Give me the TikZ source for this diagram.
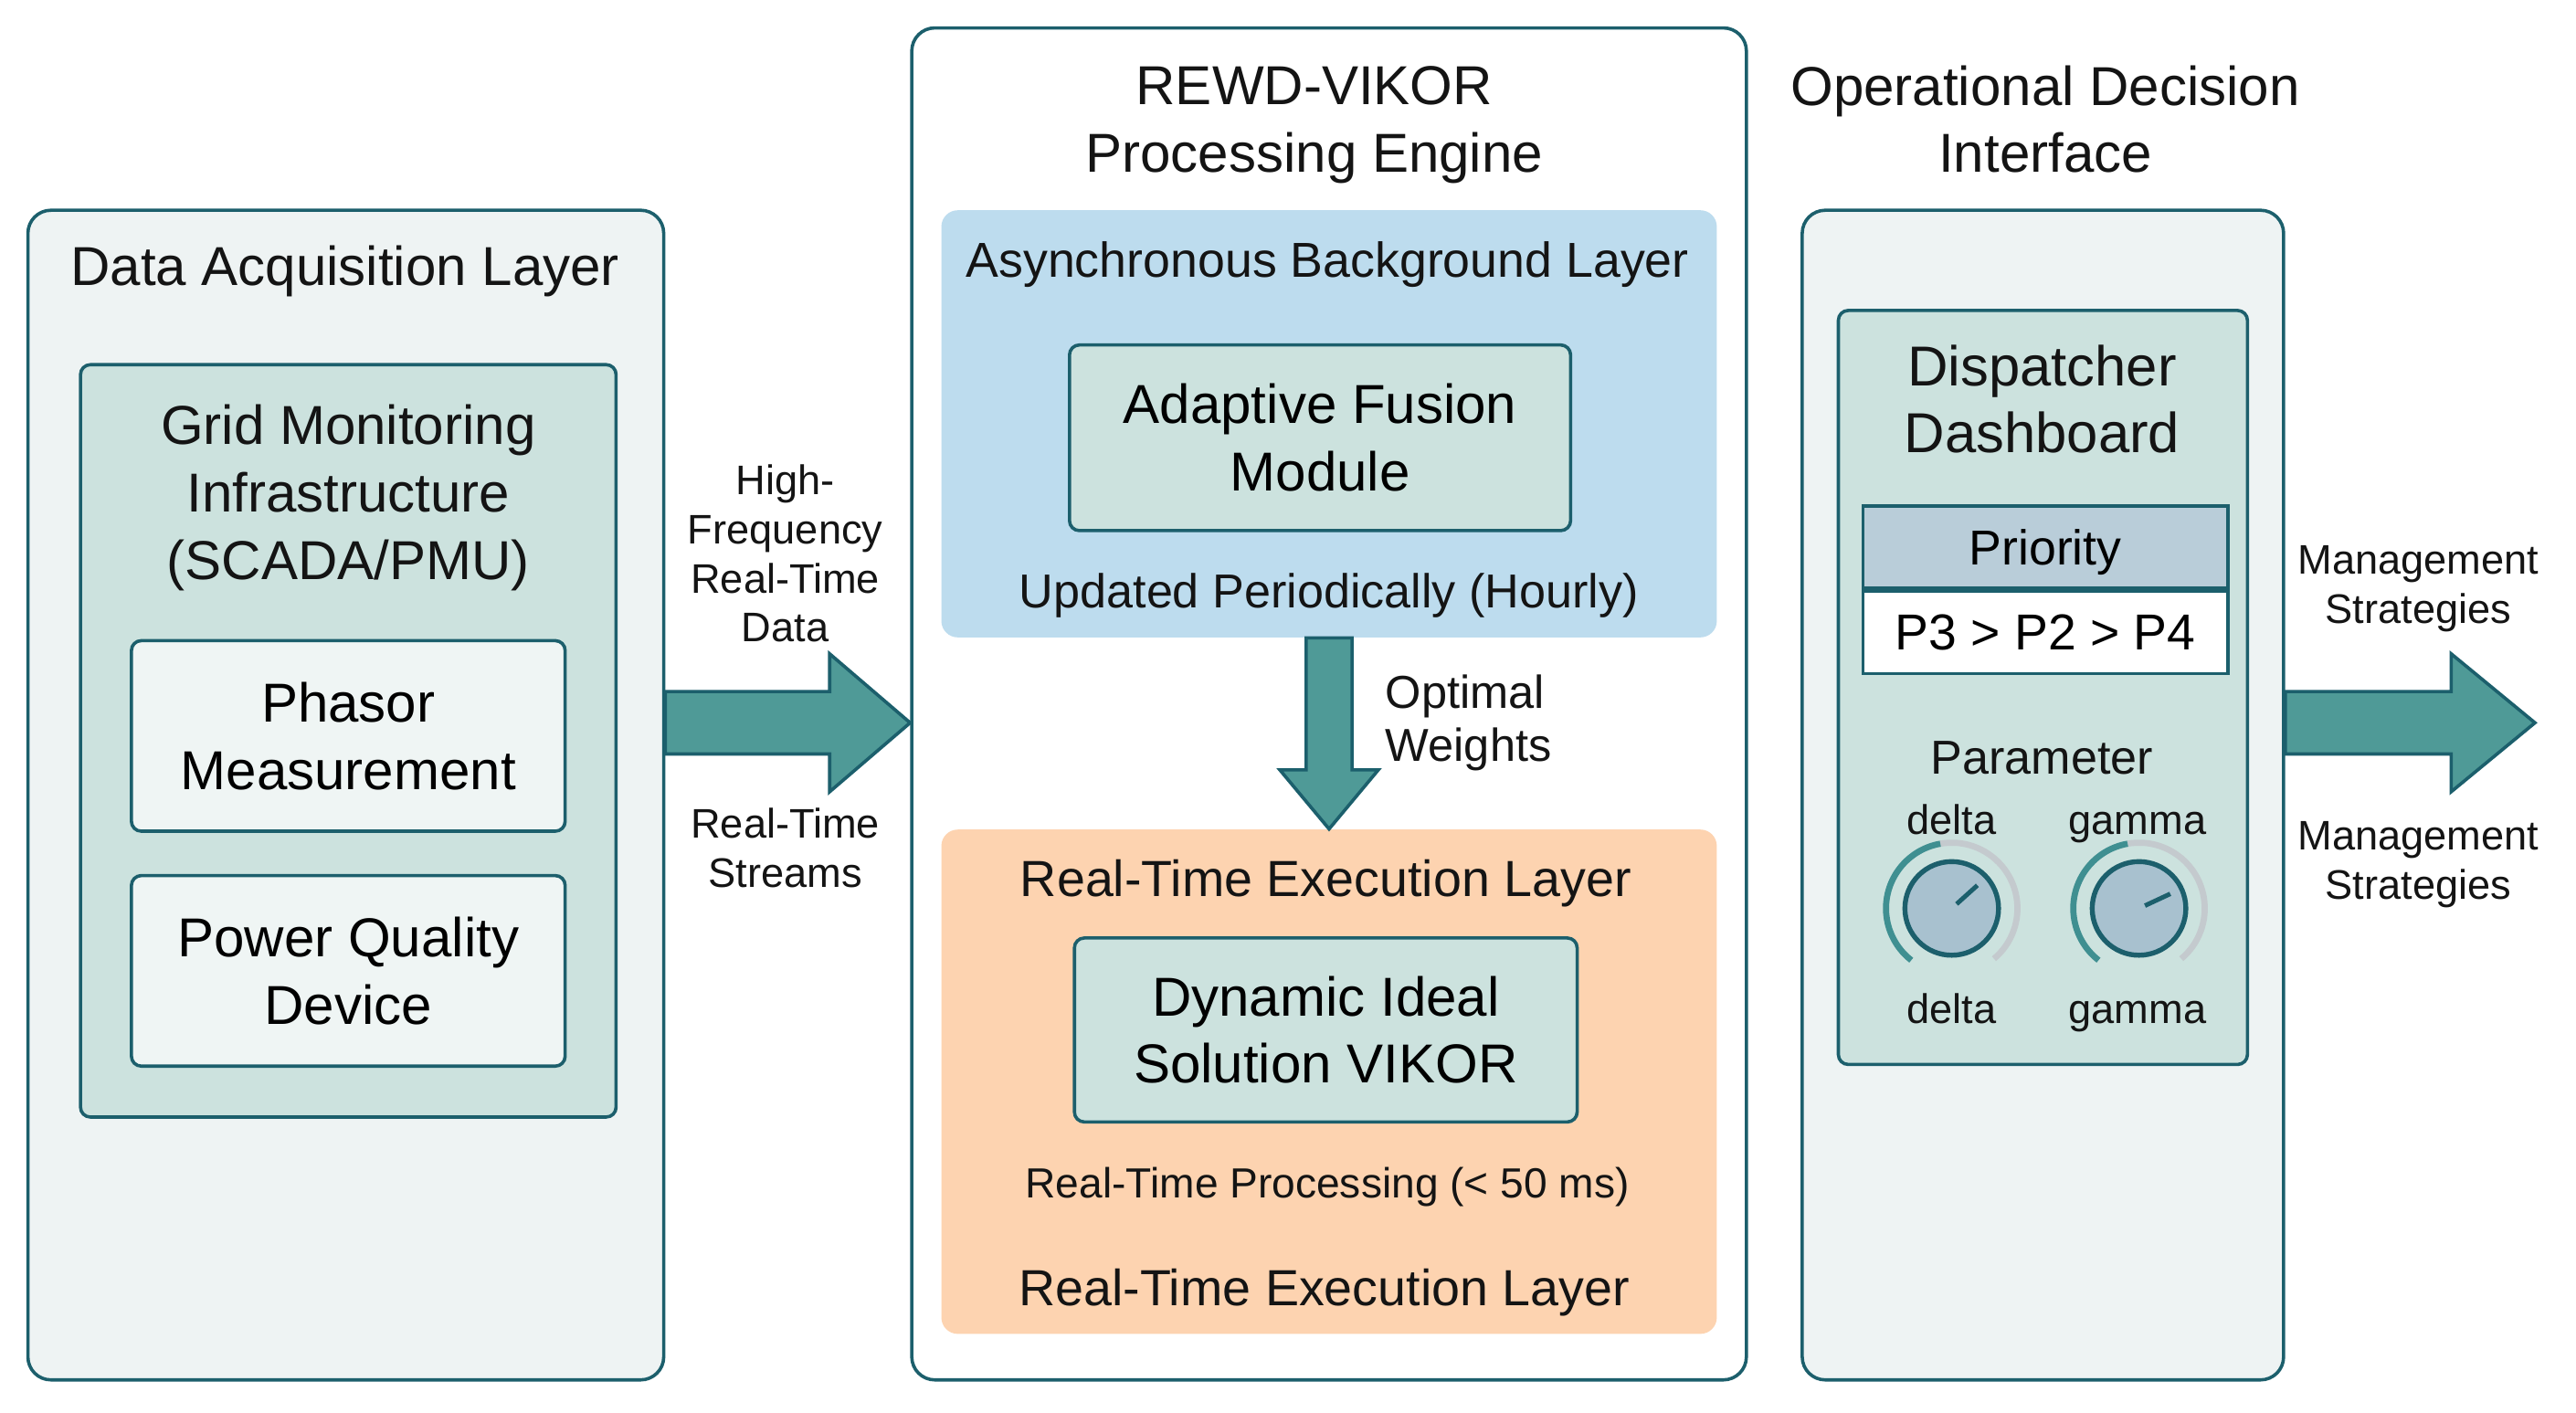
\documentclass[tikz,border=0pt]{standalone}
\usepackage{fontspec}
\setmainfont{Liberation Sans}
\usetikzlibrary{positioning,calc}
\definecolor{tealdk}{RGB}{28,95,108}
\definecolor{panelbg}{RGB}{238,243,243}
\definecolor{tealbg}{RGB}{204,226,222}
\definecolor{lightbg}{RGB}{239,245,244}
\definecolor{arrowfg}{RGB}{79,154,151}
\definecolor{bluebg}{RGB}{189,220,238}
\definecolor{peachbg}{RGB}{253,211,176}
\definecolor{headbg}{RGB}{185,205,217}
\definecolor{knobbg}{RGB}{168,193,207}
\definecolor{arcgray}{RGB}{196,202,206}
\definecolor{arcteal}{RGB}{63,143,145}
\tikzset{
  big/.style   ={font=\fontsize{19}{23.3}\selectfont},
  midf/.style  ={font=\fontsize{17}{20.4}\selectfont},
  sml/.style   ={font=\fontsize{14.3}{17}\selectfont},
  panel/.style ={draw=tealdk, line width=0.4mm, rounded corners=2.8mm, fill=panelbg},
  lyr/.style   ={rounded corners=2mm},
  tbox/.style  ={draw=tealdk, line width=0.4mm, rounded corners=1.2mm, fill=tealbg},
  wbox/.style  ={tbox, fill=lightbg, big, align=center},
  cell/.style  ={draw=tealdk, line width=0.4mm, minimum width=44.4mm, minimum height=10mm,
                 text height=12.2pt, text depth=0pt},
  lbl/.style   ={align=center, text=black!92, inner sep=0pt},
  fat/.style   ={fill=arrowfg, draw=tealdk, line width=0.4mm, line join=miter},
  knob/.style  ={circle, draw=tealdk, line width=0.6mm, fill=knobbg, minimum size=11.4mm},
  dial/.style  ={line width=0.75mm},
}

\begin{document}
\begin{tikzpicture}[x=0.2mm, y=-0.2mm]
  \path[use as bounding box, fill=white] (0,0) rectangle (1568,860);

  % --- three columns ---------------------------------------------------
  \node[panel, minimum width=77.4mm, minimum height=142.4mm] (acq) at (210.5,484) {};
  \node[panel, fill=white, minimum width=101.6mm, minimum height=164.6mm] (eng) at (809,428.5) {};
  \node[panel, minimum width=58.6mm, minimum height=142.4mm] (odi) at (1243.5,484) {};
  \coordinate (flow) at (0,440);

  % --- data acquisition ------------------------------------------------
  \node[lbl, big, anchor=base] (acqT) at (210,174) {Data Acquisition Layer};
  \node[tbox, minimum width=65.2mm, minimum height=91.6mm] (grid) at (212,451) {};
  \node[lbl, big] (gridT) at (212,303) {Grid Monitoring\\Infrastructure\\(SCADA/PMU)};
  \node[wbox, minimum width=52.8mm, minimum height=23.2mm] (pmu) at (212,448) {Phasor\\Measurement};
  \node[wbox, minimum width=52.8mm, minimum height=23.2mm, below=5mm of pmu] (pqd) {Power Quality\\Device};

  \draw[fat] ($(acq.east |- flow)+(0,-19)$) -- ($(eng.west |- flow)+(-49,-19)$) -- ++(0,-23)
     -- (eng.west |- flow) -- ++(-49,42) -- ++(0,-23) -- ($(acq.east |- flow)+(0,19)$) -- cycle;
  \node[lbl, sml] (hfT) at (478,337) {High-\\Frequency\\Real-Time\\Data};
  \node[lbl, sml] (rtsT) at (478,516) {Real-Time\\Streams};

  % --- processing engine -----------------------------------------------
  \node[lbl, big] (engT) at (800,76) {REWD-VIKOR\\Processing Engine};
  \node[lyr, fill=bluebg, minimum width=94.4mm, minimum height=52mm] (async) at (809,258) {};
  \node[lbl, midf, anchor=base] (asyncT) at (808,169) {Asynchronous Background Layer};
  \node[wbox, fill=tealbg, minimum width=61mm, minimum height=22.6mm] (afm) at (803.5,266.5) {Adaptive Fusion\\Module};
  \node[lbl, font=\fontsize{16.5}{20}\selectfont, anchor=base] (hourT) at (809,370) {Updated Periodically (Hourly)};

  \node[lyr, fill=peachbg, minimum width=94.4mm, minimum height=61.4mm] (rt) at (809,658.5) {};
  \node[lbl, font=\fontsize{17.6}{21}\selectfont, anchor=base] (rtT) at (807,546) {Real-Time Execution Layer};
  \node[wbox, fill=tealbg, minimum width=61.2mm, minimum height=22.4mm] (dis) at (807,627) {Dynamic Ideal\\Solution VIKOR};
  \node[lbl, font=\fontsize{14.6}{17}\selectfont, anchor=base] (msT) at (808,729) {Real-Time Processing (< 50 ms)};
  \node[lbl, font=\fontsize{17.6}{21}\selectfont, anchor=base] (rtB) at (806,795) {Real-Time Execution Layer};

  \draw[fat] ($(async.south)+(-14,0)$) -- ($(rt.north)+(-14,-36)$) -- ++(-16,0) -- (rt.north)
     -- ++(30,-36) -- ++(-16,0) -- ($(async.south)+(14,0)$) -- cycle;
  \node[lbl, align=left, anchor=west, font=\fontsize{16}{18.2}\selectfont] (owT) at (843,440) {Optimal\\Weights};

  % --- decision interface ----------------------------------------------
  \node[lbl, big] (odiT) at (1245,72.5) {Operational Decision\\Interface};
  \node[tbox, minimum width=49.8mm, minimum height=91.8mm] (dash) at (1243.5,418.5) {};
  \node[lbl, font=\fontsize{19.5}{23}\selectfont] (dashT) at (1243,243) {Dispatcher\\Dashboard};
  \node[cell, fill=headbg, midf] (prio) at (1245,333) {Priority};
  \node[cell, fill=white, font=\fontsize{17.5}{21}\selectfont, below=0pt of prio] (rank) {P3 > P2 > P4};
  \node[lbl, font=\fontsize{16.5}{20}\selectfont, anchor=base] (parT) at (1243,471) {Parameter};

  \node[lbl, sml, anchor=base] (dT) at (1188,508) {delta};
  \node[lbl, sml, anchor=base] (gT) at (1301,508) {gamma};
  \node[knob] (kd) at (1188,553) {};
  \node[knob] (kg) at (1302,553) {};
  \foreach \k/\a in {kd/42, kg/25} {
    \draw[dial, arcgray] ([shift={(100:8mm)}]\k.center) arc[start angle=100, end angle=-50, radius=8mm];
    \draw[dial, arcteal] ([shift={(100:8mm)}]\k.center) arc[start angle=100, end angle=232, radius=8mm];
    \draw[tealdk, line width=0.55mm] ([shift={(\a:0.8mm)}]\k.center) -- ([shift={(\a:4.2mm)}]\k.center);
  }
  \node[lbl, sml, anchor=base] (dB) at (1188,623) {delta};
  \node[lbl, sml, anchor=base] (gB) at (1301,623) {gamma};

  \coordinate (out) at ($(odi.east |- flow)+(152,0)$);
  \draw[fat] ($(odi.east |- flow)+(0,-19)$) -- ($(out)+(-51,-19)$) -- ++(0,-23) -- (out)
     -- ++(-51,42) -- ++(0,-23) -- ($(odi.east |- flow)+(0,19)$) -- cycle;
  \node[lbl, sml] (msU) at (1472,358.5) {Management\\Strategies};
  \node[lbl, sml] (msL) at (1472,526.5) {Management\\Strategies};
\end{tikzpicture}
\end{document}
